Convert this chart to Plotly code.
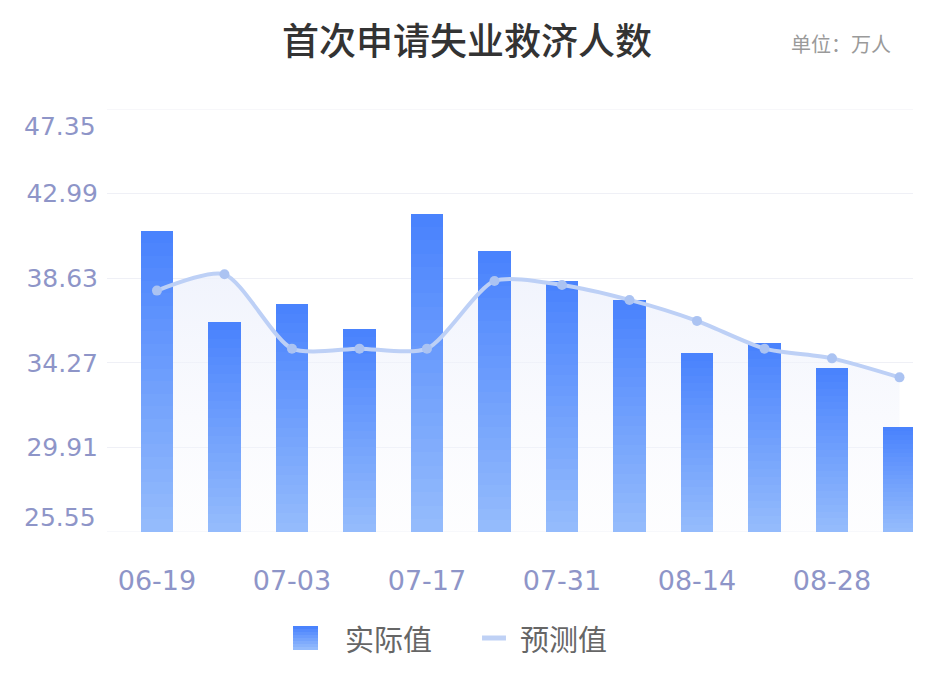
import plotly.graph_objects as go

# 首次申请失业救济人数 (单位：万人)
dates = ["06-19", "06-26", "07-03", "07-10", "07-17", "07-24",
         "07-31", "08-07", "08-14", "08-21", "08-28", "09-04"]
actual = [41.08, 36.39, 37.29, 36.01, 41.94, 40.03,
          38.49, 37.51, 34.76, 35.28, 33.99, 30.98]
forecast = [37.99, 38.83, 35.0, 35.0, 35.0, 38.49,
            38.28, 37.51, 36.43, 35.0, 34.5, 33.52]
y_ticks = [25.55, 29.91, 34.27, 38.63, 42.99, 47.35]
x_ticks = ["06-19", "07-03", "07-17", "07-31", "08-14", "08-28"]

Y_MIN, Y_MAX = y_ticks[0], y_ticks[-1]
NUM_FONT = "DejaVu Sans, Noto Sans CJK SC"
CJK_FONT = "Noto Sans CJK SC"
AXIS_COLOR = "#8e95c8"
GRID_COLOR = "#eff0f6"

BAR_TOP = (0x4a, 0x83, 0xfd)
BAR_BOTTOM = (0x94, 0xbb, 0xfc)


def mix(t):
    # t = 0 bottom colour, t = 1 top colour
    r, g, b = (round(BAR_BOTTOM[i] + (BAR_TOP[i] - BAR_BOTTOM[i]) * t) for i in range(3))
    return f"rgb({r},{g},{b})"


fig = go.Figure()

# faint area under the forecast line (kept on the lower axis so it sits behind the bars)
fig.add_trace(go.Scatter(
    x=dates, y=forecast, mode="lines", yaxis="y",
    line=dict(width=0, shape="spline", smoothing=0.7),
    fill="tozeroy",
    fillgradient=dict(type="vertical", start=Y_MIN, stop=38.8,
                      colorscale=[[0, "rgba(246,247,253,0.2)"],
                                  [1, "rgba(236,240,252,0.75)"]]),
    hoverinfo="skip", showlegend=False,
))

# bars with a vertical gradient, built from stacked slices of each bar
N = 24
for k in range(N):
    heights = [(v - Y_MIN) / N for v in actual]
    bases = [Y_MIN + k * h for h in heights]
    fig.add_trace(go.Bar(
        x=dates, y=heights, base=bases, yaxis="y2",
        width=0.48, marker=dict(color=mix(k / (N - 1)), line=dict(width=0)),
        name="实际值", showlegend=False, hoverinfo="skip",
    ))

fig.add_trace(go.Scatter(
    x=dates, y=forecast, mode="lines+markers", yaxis="y2",
    line=dict(color="#bdd0f6", width=4, shape="spline", smoothing=0.7),
    marker=dict(color="#abc3f2", size=10),
    name="预测值", showlegend=False,
))

# plotly drops grid lines sitting on the plot edges, so draw those two here
shapes = [dict(type="line", xref="paper", yref="y", x0=0, x1=1, y0=v, y1=v,
               line=dict(color=GRID_COLOR, width=1), layer="below")
          for v in (Y_MIN, Y_MAX)]

# custom legend (bottom centre)
for k in range(8):
    y0 = -0.2222 - (k + 1) * (0.0568 / 8)
    y1 = -0.2222 - k * (0.0568 / 8)
    shapes.append(dict(type="rect", xref="paper", yref="paper",
                       x0=0.2308, x1=0.2618, y0=y0, y1=y1,
                       fillcolor=mix(1 - k / 7), line=dict(width=0)))
shapes.append(dict(type="line", xref="paper", yref="paper",
                   x0=0.4653, x1=0.4950, y0=-0.2506, y1=-0.2506,
                   line=dict(color="#bfd1f5", width=5)))

annotations = [
    dict(text="实际值", xref="paper", yref="paper", x=0.2928, y=-0.2506,
         xanchor="left", yanchor="middle", showarrow=False,
         font=dict(family=CJK_FONT, size=29, color="#666666")),
    dict(text="预测值", xref="paper", yref="paper", x=0.5099, y=-0.2506,
         xanchor="left", yanchor="middle", showarrow=False,
         font=dict(family=CJK_FONT, size=29, color="#666666")),
    dict(text="单位：万人", xref="paper", yref="paper", x=0.975, y=1.156,
         xanchor="right", yanchor="middle", showarrow=False,
         font=dict(family=CJK_FONT, size=20, color="#9a9a9a")),
]
# first / last y labels sit inside the grid, like the original
annotations.append(dict(text=f"{Y_MAX:.2f}", xref="paper", yref="y", x=-0.011, y=Y_MAX,
                        xanchor="right", yanchor="middle", yshift=-17, showarrow=False,
                        font=dict(family=NUM_FONT, size=25, color=AXIS_COLOR)))
annotations.append(dict(text=f"{Y_MIN:.2f}", xref="paper", yref="y", x=-0.011, y=Y_MIN,
                        xanchor="right", yanchor="middle", yshift=15, showarrow=False,
                        font=dict(family=NUM_FONT, size=25, color=AXIS_COLOR)))

# page body has an 8px margin, so the figure is 8px smaller and the margins shifted
fig.update_layout(
    width=926, height=689,
    margin=dict(l=99, r=21, t=101, b=165),
    paper_bgcolor="white", plot_bgcolor="white",
    barmode="overlay", bargap=0,
    title=dict(text="首次申请失业救济人数", x=(467 - 8) / 926, xanchor="center",
               xref="container", y=1 - 34 / 689, yanchor="middle", yref="container",
               font=dict(family=CJK_FONT, size=37, color="#333333", weight=500)),
    xaxis=dict(type="category", categoryorder="array", categoryarray=dates,
               range=[-0.74, 11.2], tickmode="array", tickvals=x_ticks,
               ticktext=x_ticks, showgrid=False, zeroline=False, showline=False,
               ticks="", ticklabelstandoff=30,
               tickfont=dict(family=NUM_FONT, size=27, color=AXIS_COLOR)),
    yaxis=dict(range=[Y_MIN, Y_MAX], tickmode="array", tickvals=y_ticks,
               ticktext=["" if v in (Y_MIN, Y_MAX) else f"{v:.2f}" for v in y_ticks],
               showgrid=True, gridcolor=GRID_COLOR, gridwidth=1,
               zeroline=False, showline=False, ticks="", ticklabelstandoff=8,
               tickfont=dict(family=NUM_FONT, size=25, color=AXIS_COLOR)),
    yaxis2=dict(range=[Y_MIN, Y_MAX], overlaying="y", visible=False,
                showgrid=False, zeroline=False),
    shapes=shapes,
    annotations=annotations,
    showlegend=False,
)

fig.write_html("out.html")
